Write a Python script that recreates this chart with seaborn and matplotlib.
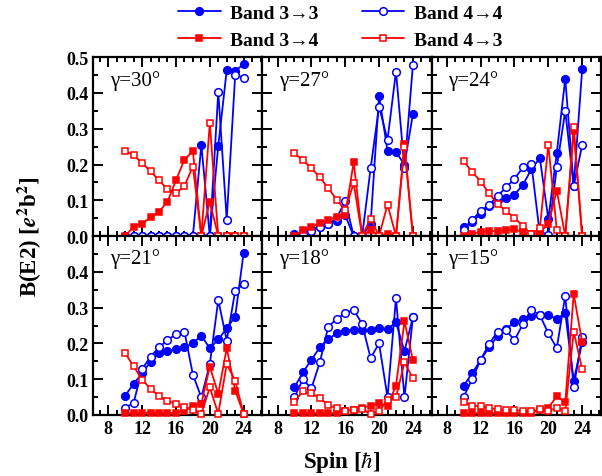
import numpy as np
import matplotlib
matplotlib.use("Agg")
import matplotlib.pyplot as plt
from matplotlib.ticker import MultipleLocator
import seaborn as sns

sns.set_style("ticks")
plt.rcParams['font.family'] = ['Liberation Serif', 'DejaVu Serif']
plt.rcParams['mathtext.fontset'] = 'stix'
plt.rcParams['axes.edgecolor'] = 'black'
plt.rcParams['xtick.color'] = 'black'
plt.rcParams['ytick.color'] = 'black'
plt.rcParams['text.color'] = 'black'
plt.rcParams['axes.labelcolor'] = 'black'

spins = list(range(10, 25))
gammas = [30, 27, 24, 21, 18, 15]
series_names = ["Band 3\u21923", "Band 4\u21924", "Band 3\u21924", "Band 4\u21923"]

# gamma = 30
b33_30 = [0, 0, 0, 0, 0, 0, 0, 0, 0, 0.255, 0.0, 0.252, 0.464, 0.462, 0.48]
b44_30 = [0, 0, 0, 0, 0, 0, 0, 0, 0, 0, 0, 0.403, 0.046, 0.451, 0.443]
b34_30 = [0, 0.026, 0.035, 0.052, 0.068, 0.096, 0.156, 0.213, 0.238, 0, 0.096, 0, 0, 0, 0]
b43_30 = [0.238, 0.226, 0.204, 0.181, 0.156, 0.131, 0.119, 0.140, 0.194, 0, 0.315, 0, 0, 0, 0]
# gamma = 27
b33_27 = [0.005, 0.01, 0.02, 0.025, 0.033, 0.042, 0.058, 0.0, 0.0, 0.034, 0.392, 0.238, 0.235, 0.2, 0.341]
b44_27 = [0.0, 0.005, 0.015, 0.025, 0.035, 0.05, 0.099, 0.0, 0.0, 0.189, 0.362, 0.269, 0.46, 0.19, 0.478]
b34_27 = [0.0, 0.016, 0.025, 0.037, 0.046, 0.053, 0.06, 0.206, 0.0, 0.017, 0.0, 0.007, 0.0, 0.256, 0.0]
b43_27 = [0.231, 0.212, 0.190, 0.164, 0.134, 0.101, 0.073, 0.148, 0.0, 0.049, 0.0, 0.088, 0.0, 0.25, 0.0]
# gamma = 24
b33_24 = [0.026, 0.04, 0.062, 0.085, 0.1, 0.106, 0.116, 0.143, 0.187, 0.218, 0.047, 0.232, 0.44, 0.14, 0.466]
b44_24 = [0.017, 0.045, 0.07, 0.087, 0.112, 0.136, 0.16, 0.192, 0.201, 0.005, 0.002, 0.192, 0.35, 0.139, 0.255]
b34_24 = [0.0, 0.007, 0.012, 0.013, 0.015, 0.016, 0.02, 0.01, 0.005, 0.01, 0.034, 0.127, 0.0, 0.294, 0.0]
b43_24 = [0.209, 0.180, 0.152, 0.120, 0.089, 0.071, 0.050, 0.029, 0.005, 0.022, 0.255, 0.017, 0.0, 0.304, 0.0]
# gamma = 21
b33_21 = [0.054, 0.087, 0.116, 0.149, 0.172, 0.18, 0.183, 0.189, 0.2, 0.222, 0.186, 0.211, 0.242, 0.275, 0.454]
b44_21 = [0.02, 0.034, 0.128, 0.163, 0.189, 0.209, 0.226, 0.233, 0.113, 0.049, 0.142, 0.321, 0.208, 0.347, 0.366]
b34_21 = [0.006, 0.006, 0.006, 0.006, 0.006, 0.006, 0.006, 0.012, 0.026, 0.031, 0.135, 0.059, 0.187, 0.068, 0.003]
b43_21 = [0.173, 0.136, 0.099, 0.073, 0.052, 0.04, 0.031, 0.021, 0.015, 0.003, 0.077, 0.003, 0.142, 0.096, 0.003]
# gamma = 18
b33_18 = [0.077, 0.119, 0.154, 0.189, 0.212, 0.228, 0.236, 0.238, 0.238, 0.238, 0.243, 0.24, 0.259, 0.178, 0.274]
b44_18 = [0.049, 0.1, 0.074, 0.147, 0.247, 0.268, 0.285, 0.294, 0.254, 0.159, 0.2, 0.049, 0.327, 0.049, 0.274]
b34_18 = [0.005, 0.005, 0.005, 0.005, 0.005, 0.005, 0.012, 0.014, 0.02, 0.026, 0.033, 0.026, 0.082, 0.262, 0.153]
b43_18 = [0.037, 0.066, 0.06, 0.047, 0.027, 0.019, 0.012, 0.014, 0.017, 0.003, 0.01, 0.043, 0.049, 0.147, 0.102]
# gamma = 15
b33_15 = [0.082, 0.116, 0.154, 0.189, 0.22, 0.24, 0.259, 0.268, 0.277, 0.28, 0.279, 0.268, 0.285, 0.096, 0.203]
b44_15 = [0.051, 0.1, 0.154, 0.198, 0.233, 0.237, 0.209, 0.254, 0.293, 0.279, 0.228, 0.187, 0.333, 0.077, 0.219]
b34_15 = [0.005, 0.005, 0.005, 0.005, 0.005, 0.005, 0.005, 0.005, 0.005, 0.014, 0.02, 0.052, 0.035, 0.338, 0.203]
b43_15 = [0.037, 0.026, 0.024, 0.019, 0.016, 0.014, 0.014, 0.011, 0.01, 0.016, 0.012, 0.019, 0.011, 0.233, 0.128]

panel_data = {
    30: (b33_30, b44_30, b34_30, b43_30),
    27: (b33_27, b44_27, b34_27, b43_27),
    24: (b33_24, b44_24, b34_24, b43_24),
    21: (b33_21, b44_21, b34_21, b43_21),
    18: (b33_18, b44_18, b34_18, b43_18),
    15: (b33_15, b44_15, b34_15, b43_15),
}

blue = "#0000FF"
red = "#FF0000"
styles = [
    dict(color=blue, marker="o", mfc=blue),
    dict(color=blue, marker="o", mfc="white"),
    dict(color=red, marker="s", mfc=red),
    dict(color=red, marker="s", mfc="white"),
]

fig, axes = plt.subplots(2, 3, figsize=(6.02, 4.77), dpi=100)
fig.subplots_adjust(left=0.1545, right=0.998, bottom=0.128, top=0.878, wspace=0, hspace=0)

tick_fs = 13
for idx, (ax, g) in enumerate(zip(axes.flat, gammas)):
    for si, (vals, st) in enumerate(zip(panel_data[g], styles)):
        ms = 5.5 if st["marker"] == "o" else 5
        sns.lineplot(x=spins, y=vals, ax=ax, color=st["color"], marker=st["marker"],
                     markersize=ms, markerfacecolor=st["mfc"], markeredgecolor=st["color"],
                     markeredgewidth=1.1, linewidth=1.3, clip_on=False, zorder=3 + si,
                     label=series_names[si] if idx == 0 else None, legend=False)
    ax.set_xlim(6.2, 26.2)
    ax.set_ylim(0, 0.5)
    ax.set_xticks([8, 12, 16, 20, 24])
    ax.xaxis.set_minor_locator(MultipleLocator(1))
    ax.set_yticks([0.0, 0.1, 0.2, 0.3, 0.4, 0.5])
    ax.yaxis.set_minor_locator(MultipleLocator(0.05))
    ax.tick_params(which="both", direction="in", top=True, right=True, width=1.4)
    ax.tick_params(which="major", length=7)
    ax.tick_params(which="minor", length=3.5)
    for sp in ax.spines.values():
        sp.set_linewidth(1.6)
        sp.set_color("black")
    ax.set_xlabel("")
    ax.set_ylabel("")
    ax.text(0.1, 0.875, "\u03b3=%d\u00b0" % g, transform=ax.transAxes, fontsize=15,
            ha="left", va="center")
    row, col = divmod(idx, 3)
    if row == 1:
        ax.set_xticklabels(["8", "12", "16", "20", "24"], fontweight="bold", fontsize=tick_fs)
    else:
        ax.set_xticklabels([])
    if col == 0:
        labs = ["0.0", "0.1", "0.2", "0.3", "0.4", "0.5"]
        if row == 1:
            labs[-1] = ""
        ax.set_yticklabels(labs, fontweight="bold", fontsize=tick_fs)
    else:
        ax.set_yticklabels([])

fig.text(0.568, 0.004, r"Spin [$\hbar$]", ha="center", va="bottom", fontsize=16.5, fontweight="bold")
fig.text(0.05, 0.503, r"B(E2) [$\mathbfit{e}^{\mathbf{2}}$b$^{\mathbf{2}}$]", rotation=90,
         ha="center", va="center", fontsize=16.5, fontweight="bold")

h, l = axes[0, 0].get_legend_handles_labels()
order = [0, 2, 1, 3]
fig.legend([h[i] for i in order], [l[i] for i in order], ncol=2, loc="upper center",
           bbox_to_anchor=(0.565, 1.025), frameon=False, prop=dict(weight="bold", size=14),
           handlelength=2.2, columnspacing=2.2, labelspacing=0.45, handletextpad=0.5)

fig.savefig("out.png", dpi=100)
